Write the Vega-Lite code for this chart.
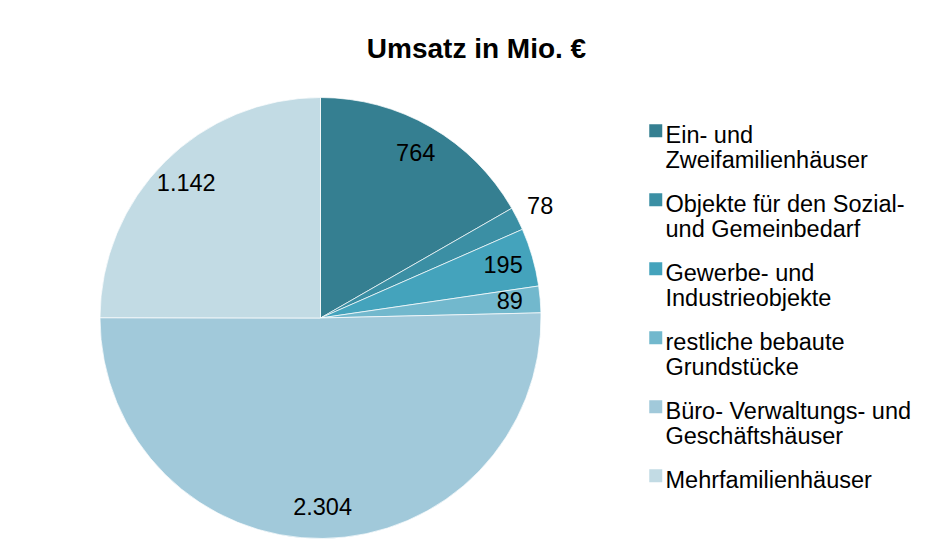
{
  "$schema": "https://vega.github.io/schema/vega-lite/v6.json",
  "width": 641,
  "height": 470,
  "autosize": {"type": "none"},
  "padding": {"left": 0, "top": 83, "right": 292, "bottom": 5},
  "background": "white",
  "config": {
    "view": {"stroke": null},
    "font": "Liberation Sans",
    "locale": {"number": {"decimal": ",", "thousands": ".", "grouping": [3], "currency": ["", " €"]}}
  },
  "title": {
    "text": "Umsatz in Mio. €",
    "font": "Liberation Sans",
    "fontSize": 28,
    "fontWeight": "bold",
    "color": "black",
    "anchor": "middle",
    "baseline": "alphabetic",
    "offset": 0,
    "dx": 156,
    "dy": 3
  },
  "data": {
    "values": [
      {"idx": 1, "kategorie": "Ein- und|Zweifamilienhäuser", "umsatz": 764},
      {"idx": 2, "kategorie": "Objekte für den Sozial-|und Gemeinbedarf", "umsatz": 78},
      {"idx": 3, "kategorie": "Gewerbe- und|Industrieobjekte", "umsatz": 195},
      {"idx": 4, "kategorie": "restliche bebaute|Grundstücke", "umsatz": 89},
      {"idx": 5, "kategorie": "Büro- Verwaltungs- und|Geschäftshäuser", "umsatz": 2304},
      {"idx": 6, "kategorie": "Mehrfamilienhäuser", "umsatz": 1142}
    ]
  },
  "encoding": {
    "theta": {"field": "umsatz", "type": "quantitative", "stack": true},
    "order": {"field": "idx", "type": "ordinal"}
  },
  "layer": [
    {
      "mark": {"type": "arc", "outerRadius": 220.5, "stroke": "white", "strokeWidth": 0.7},
      "encoding": {
        "color": {
          "field": "kategorie",
          "type": "nominal",
          "sort": null,
          "scale": {
            "domain": [
              "Ein- und|Zweifamilienhäuser",
              "Objekte für den Sozial-|und Gemeinbedarf",
              "Gewerbe- und|Industrieobjekte",
              "restliche bebaute|Grundstücke",
              "Büro- Verwaltungs- und|Geschäftshäuser",
              "Mehrfamilienhäuser"
            ],
            "range": ["#357F91", "#3B8FA4", "#44A3BC", "#72B8CD", "#A1C9DA", "#C2DBE4"]
          },
          "legend": {
            "title": null,
            "orient": "none",
            "legendX": 644,
            "legendY": 29,
            "padding": 0,
            "symbolType": "M-1,0.077H1V2.077H-1Z",
            "symbolSize": 169,
            "symbolStrokeWidth": 0,
            "symbolOpacity": 1,
            "labelFont": "Liberation Sans",
            "labelFontSize": 23.5,
            "labelColor": "black",
            "labelLimit": 400,
            "labelOffset": -2,
            "labelBaseline": "top",
            "labelLineHeight": 26.5,
            "rowPadding": 8,
            "labelExpr": "split(datum.label, '|')"
          }
        }
      }
    },
    {
      "mark": {"type": "text", "font": "Liberation Sans", "fontSize": 23.5, "color": "black", "radius": 190},
      "encoding": {
        "text": {"field": "umsatz", "type": "quantitative", "format": ",d"},
        "opacity": {"condition": {"test": "datum.umsatz == 78", "value": 0}, "value": 1}
      }
    },
    {
      "mark": {"type": "text", "font": "Liberation Sans", "fontSize": 23.5, "color": "black", "radius": 246},
      "encoding": {
        "text": {"field": "umsatz", "type": "quantitative", "format": ",d"},
        "opacity": {"condition": {"test": "datum.umsatz == 78", "value": 1}, "value": 0}
      }
    }
  ]
}
